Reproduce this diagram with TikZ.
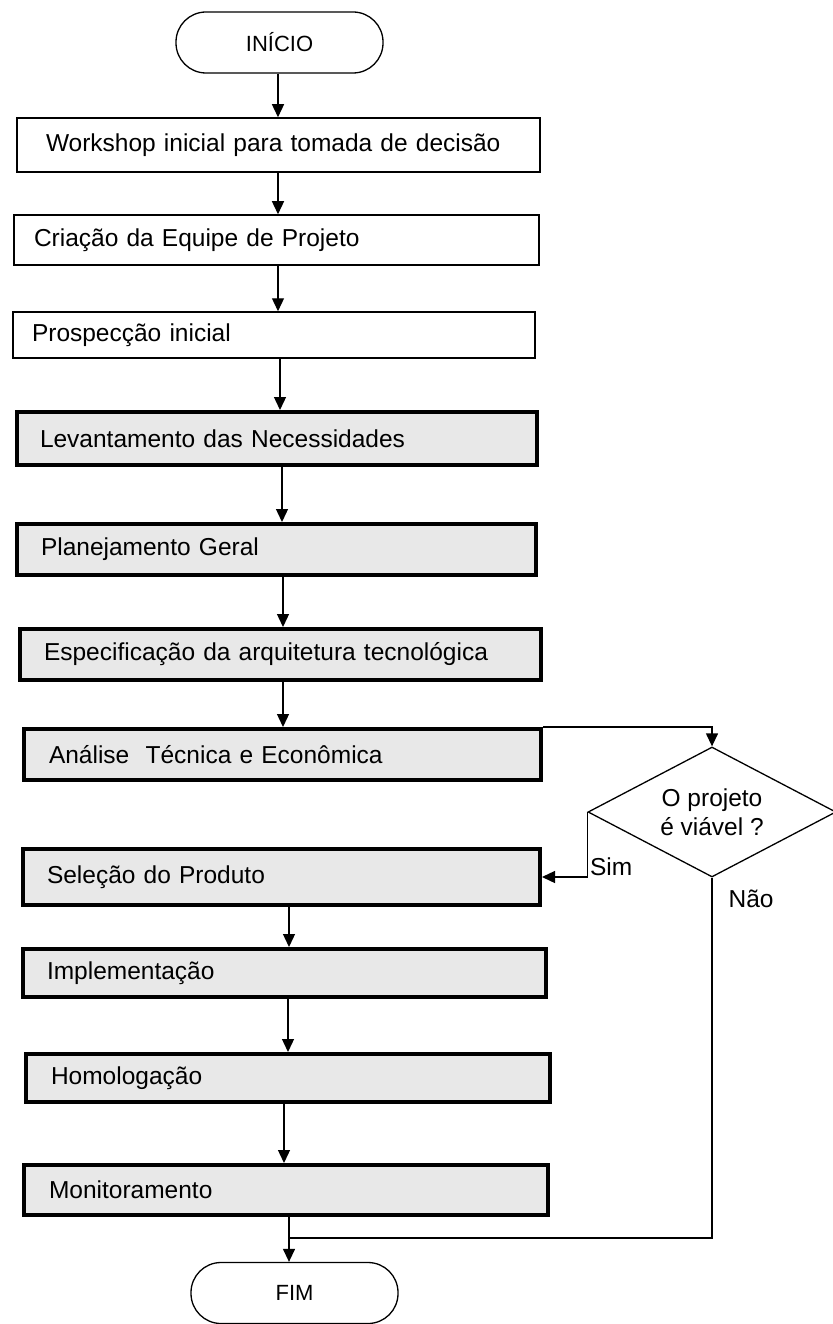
\documentclass[tikz,border=0pt]{standalone}
\usepackage{fontspec}
\setmainfont{Liberation Sans}
\usetikzlibrary{arrows.meta,shapes.geometric}
\definecolor{boxgray}{RGB}{232,232,232}
\newcommand{\bodyfont}{\fontsize{24.5}{29}\selectfont}
\tikzset{
  term/.style={draw, line width=1.3pt, rounded corners=30pt, minimum width=207pt, minimum height=61pt, inner sep=0pt, font=\fontsize{22}{26}\selectfont},
  wbox/.style={draw, line width=1.5pt, fill=white, align=left, inner ysep=0pt, font=\bodyfont},
  gbox/.style={draw, line width=4pt, fill=boxgray, align=left, inner ysep=0pt, font=\bodyfont},
  decision/.style={draw, diamond, line width=1.3pt, minimum width=248pt, minimum height=130pt, inner sep=0pt, aspect=1.9, align=center, font=\bodyfont},
  arr/.style={line width=1.3pt, -{Triangle[length=13pt,width=12pt]}},
  conn/.style={line width=1.3pt},
  lbl/.style={font=\bodyfont, inner sep=2pt}
}
\begin{document}
\begin{tikzpicture}[x=1pt,y=-1pt]
\useasboundingbox (0,0) rectangle (832,1324);
% terminals
\node[term] (S) at (279.5,42.5) {INÍCIO};
\node[term] (E) at (294.5,1293) {FIM};
% white boxes
\node[wbox, minimum width=523pt, minimum height=54pt, inner xsep=29pt, text width=465pt] (B1) at (278.5,145) {Workshop inicial para tomada de decisão};
\node[wbox, minimum width=525pt, minimum height=50pt, inner xsep=20pt, text width=485pt] (B2) at (276.5,240) {Criação da Equipe de Projeto};
\node[wbox, minimum width=522pt, minimum height=46pt, inner xsep=19pt, text width=484pt] (B3) at (274,335) {Prospecção inicial};
% gray boxes
\node[gbox, minimum width=520pt, minimum height=53pt, inner xsep=23pt, text width=474pt] (B4) at (277,438.5) {Levantamento das Necessidades};
\node[gbox, minimum width=519pt, minimum height=51pt, inner xsep=24pt, text width=471pt] (B5) at (276.5,549.5) {Planejamento Geral};
\node[gbox, minimum width=521pt, minimum height=51pt, inner xsep=24pt, text width=473pt] (B6) at (280.5,654.5) {Especificação da arquitetura tecnológica};
\node[gbox, minimum width=517pt, minimum height=51pt, inner xsep=25pt, text width=467pt] (B7) at (282.5,754.5) {Análise\ \ Técnica e Econômica};
\node[gbox, minimum width=517pt, minimum height=56pt, inner xsep=24pt, text width=469pt] (B8) at (281.5,877) {Seleção do Produto};
\node[gbox, minimum width=523pt, minimum height=48pt, inner xsep=24pt, text width=475pt] (B9) at (284.5,973) {Implementação};
\node[gbox, minimum width=524pt, minimum height=48pt, inner xsep=25pt, text width=474pt] (B10) at (288,1078) {Homologação};
\node[gbox, minimum width=524pt, minimum height=50pt, inner xsep=25pt, text width=474pt] (B11) at (286,1190) {Monitoramento};
% decision
\node[decision] (D) at (712,812) {O projeto\\é viável ?};
\coordinate (J) at (289,1238);
% connectors
\draw[arr] (S.south -| 278,0) -- (B1.north -| 278,0);
\draw[arr] (B1.south -| 278,0) -- (B2.north -| 278,0);
\draw[arr] (B2.south -| 278,0) -- (B3.north -| 278,0);
\draw[arr] (B3.south -| 280,0) -- (B4.north -| 280,0);
\draw[arr] (B4.south -| 282,0) -- (B5.north -| 282,0);
\draw[arr] (B5.south -| 283,0) -- (B6.north -| 283,0);
\draw[arr] (B6.south -| 283,0) -- (B7.north -| 283,0);
\draw[arr] (B7.north east) -| (D.north);
\draw[arr] (D.west) |- node[lbl, pos=0.42, anchor=west] {Sim} (B8.east);
\draw[arr] (B8.south -| 289,0) -- (B9.north -| 289,0);
\draw[arr] (B9.south -| 288,0) -- (B10.north -| 288,0);
\draw[arr] (B10.south -| 284,0) -- (B11.north -| 284,0);
\draw[arr] (B11.south -| J) -- (E.north -| J);
\draw[conn] (D.south) -- node[lbl, pos=0.06, anchor=west, xshift=14pt] {Não} (D.south |- J) -- (J);
\end{tikzpicture}
\end{document}
